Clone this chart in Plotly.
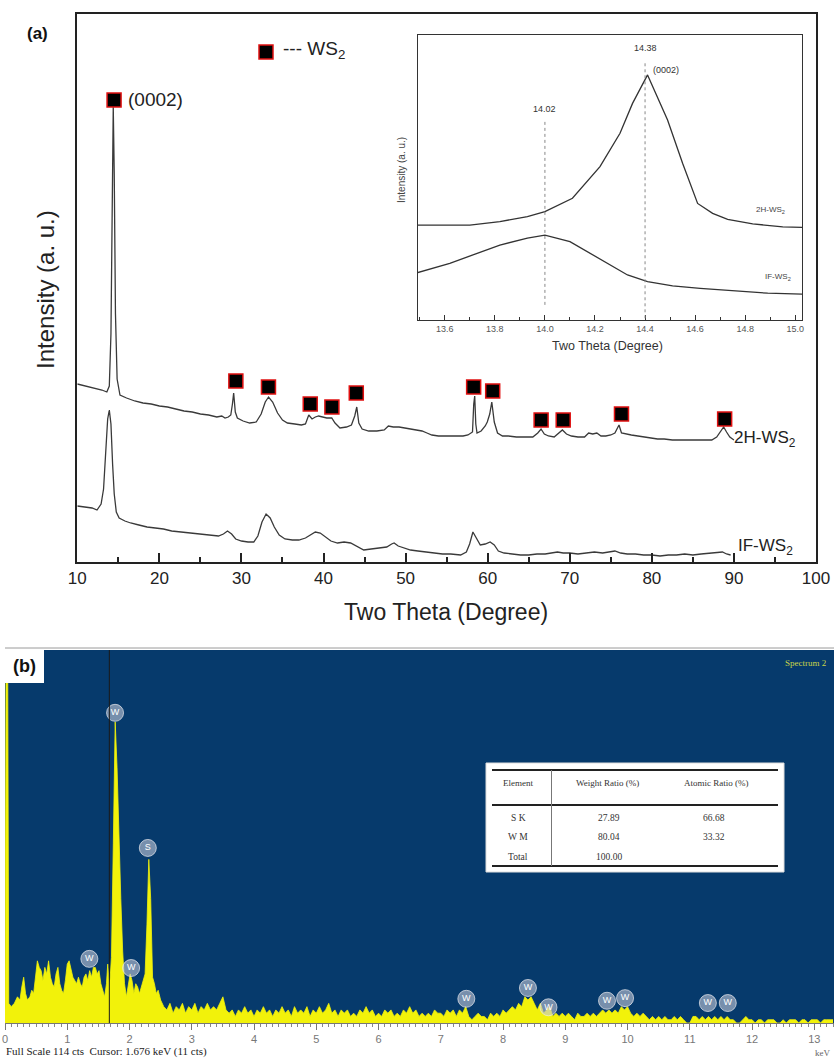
import plotly.graph_objects as go

# ---------------- (a) XRD data (2θ in degrees, intensity in a.u.) ----------------
XRD_2H = [(10, 180), (11, 178), (12, 176), (13, 174), (13.6, 172), (13.9, 178), (14.1, 230),
          (14.25, 370), (14.38, 457), (14.5, 390), (14.65, 250), (14.85, 185), (15.2, 169),
          (16, 166), (17, 163), (18, 161), (19, 160), (20, 158), (21, 157), (22, 155), (23, 153),
          (24, 152), (25, 150), (26, 149), (27, 147), (27.6, 148), (28.0, 146), (28.4, 147),
          (28.7, 149), (28.9, 160), (29.05, 171), (29.25, 152), (29.5, 146), (30.2, 143),
          (31.0, 141), (31.8, 142), (32.4, 150), (32.9, 162), (33.3, 167), (33.8, 162),
          (34.4, 151), (35.0, 144), (35.6, 141), (36.5, 140), (37.3, 139), (37.8, 140),
          (38.2, 149), (38.6, 145), (39.0, 147), (39.4, 148), (39.9, 147), (40.4, 146),
          (41.0, 146), (41.4, 141), (42.0, 136), (42.8, 137), (43.4, 139), (43.8, 148),
          (44.05, 157), (44.3, 141), (44.7, 135), (45.5, 133), (46.5, 133), (47.4, 134),
          (47.9, 138), (48.5, 137), (49.2, 137), (50.0, 136), (50.8, 135), (51.5, 134),
          (52.0, 133), (52.6, 131), (53.2, 129), (54, 128), (55, 128), (56, 128), (57, 128),
          (57.6, 129), (58.15, 132), (58.3, 160), (58.42, 168), (58.55, 140), (58.7, 131),
          (59.2, 133), (59.7, 138), (59.95, 142), (60.25, 150), (60.5, 162), (60.8, 142),
          (61.2, 131), (61.8, 128), (62.5, 128), (63.5, 127), (64.5, 127), (65.5, 127),
          (66.1, 131), (66.5, 135), (66.9, 130), (67.4, 128), (68.1, 127), (68.7, 131),
          (69.1, 134), (69.6, 130), (70.2, 128), (71, 127), (71.8, 127), (72.3, 131),
          (72.8, 130), (73.3, 131), (73.8, 128), (74.4, 128), (75.0, 129), (75.5, 131),
          (75.75, 135), (76.0, 139), (76.3, 131), (76.8, 130), (77.5, 129), (78.3, 128),
          (79.0, 127), (79.8, 126), (80.7, 125), (81.5, 125), (82.5, 124), (83.5, 124),
          (84.5, 124), (85.5, 124), (86.5, 124), (87.3, 124), (87.9, 127), (88.4, 133),
          (88.75, 137), (89.1, 132), (89.5, 127), (90.0, 124)]

XRD_IF = [(10, 58), (11, 57), (11.8, 56), (12.4, 54), (12.9, 60), (13.2, 75), (13.45, 105),
          (13.7, 145), (13.9, 154), (14.1, 140), (14.3, 100), (14.5, 70), (14.75, 52),
          (15.1, 46), (15.8, 43), (16.5, 41), (17.5, 39), (18.5, 37), (19.5, 36), (20.5, 35),
          (21.5, 33), (22.5, 32), (23.5, 31), (24.5, 30), (25.5, 29), (26.5, 28), (27.2, 28),
          (27.8, 30), (28.3, 33), (28.8, 30), (29.3, 25), (30.0, 23), (30.8, 22), (31.5, 22),
          (32.0, 28), (32.5, 42), (33.0, 50), (33.5, 46), (34.0, 37), (34.6, 29), (35.3, 25),
          (36.2, 24), (37.0, 24), (37.8, 26), (38.4, 29), (39.0, 32), (39.6, 31), (40.2, 27),
          (40.9, 23), (41.7, 21), (42.5, 22), (43.3, 21), (44.0, 18), (44.9, 14), (45.8, 15),
          (46.8, 16), (47.7, 17), (48.3, 20), (48.6, 21), (49.1, 18), (49.8, 16), (50.6, 14),
          (51.5, 13), (52.5, 12), (53.5, 11), (54.5, 10), (55.5, 10), (56.7, 9), (57.4, 12),
          (57.8, 20), (58.2, 32), (58.6, 26), (59.1, 19), (59.7, 20), (60.3, 22), (60.8, 19),
          (61.3, 13), (62, 11), (63, 10), (64, 9), (65, 9), (66, 10), (67, 10), (68, 11),
          (68.5, 12), (69.2, 11), (70, 11), (71, 10), (72, 11), (73, 12), (74, 11), (75, 12),
          (75.5, 13), (76.2, 11), (77, 10), (78, 10), (79, 9), (80, 9), (81, 8), (82, 9),
          (83, 9), (84, 10), (85, 9), (86, 10), (87, 11), (88, 12), (88.6, 12), (89.1, 10),
          (89.6, 9)]

PEAK_THETA = [14.48, 29.32, 33.29, 38.38, 41.02, 43.99, 58.29, 60.61, 66.51, 69.2, 76.3, 88.87]
PEAK_INT = [464, 183, 177, 160, 157, 171, 177, 173, 144, 144, 150, 145]

# ---------------- (a) inset data ----------------
INSET_2H = [(13.49, 33.3), (13.70, 33.3), (13.82, 34.5), (13.93, 36.3), (14.0, 38.0),
            (14.11, 42.7), (14.22, 53.8), (14.30, 65.5), (14.35, 76.0), (14.41, 86.0),
            (14.49, 70.2), (14.55, 55.0), (14.61, 40.9), (14.67, 37.4), (14.73, 35.3),
            (14.83, 33.7), (14.95, 32.7), (15.03, 32.5)]
INSET_IF = [(13.49, 16.6), (13.62, 19.9), (13.71, 22.8), (13.82, 26.3), (13.93, 28.7),
            (14.0, 29.8), (14.1, 27.5), (14.22, 21.3), (14.33, 15.8), (14.41, 13.5),
            (14.51, 12.0), (14.62, 11.1), (14.75, 10.3), (14.89, 9.4), (15.03, 9.1)]
INSET_PEAK_POS = [14.0, 14.4]
INSET_PEAK_LABEL = ["14.02", "14.38"]

# ---------------- (b) EDS data (keV, counts) ----------------
EDS_LOW = [(0.0, 0), (0.02, 130), (0.04, 130), (0.06, 6), (0.10, 5), (0.15, 6), (0.20, 8),
           (0.24, 7), (0.27, 11), (0.30, 14), (0.33, 9), (0.36, 7), (0.40, 8), (0.43, 10),
           (0.46, 9), (0.49, 14), (0.52, 19), (0.55, 17), (0.58, 16), (0.61, 13), (0.64, 17),
           (0.67, 15), (0.70, 19), (0.73, 14), (0.76, 12), (0.79, 11), (0.82, 15), (0.85, 17),
           (0.88, 12), (0.91, 10), (0.94, 9), (0.97, 13), (1.00, 18), (1.03, 19), (1.06, 16),
           (1.09, 14), (1.12, 13), (1.15, 12), (1.18, 14), (1.21, 12), (1.24, 11), (1.27, 14),
           (1.30, 15), (1.33, 13), (1.36, 16), (1.39, 14), (1.42, 17), (1.45, 17), (1.48, 15),
           (1.51, 16), (1.54, 12), (1.57, 10), (1.60, 8), (1.63, 12), (1.65, 18), (1.68, 11),
           (1.71, 20), (1.74, 55), (1.77, 92), (1.80, 78), (1.83, 55), (1.86, 38), (1.89, 22),
           (1.92, 12), (1.95, 8), (1.98, 11), (2.01, 15), (2.04, 13), (2.07, 9), (2.10, 12),
           (2.13, 11), (2.16, 9), (2.19, 11), (2.22, 13), (2.25, 15), (2.28, 30), (2.31, 50),
           (2.34, 38), (2.37, 14), (2.40, 12), (2.43, 9), (2.46, 10)]
# counts from 2.50 keV upward in 0.05 keV channels
EDS_HIGH_START = 2.50
EDS_HIGH_STEP = 0.05
EDS_HIGH_CTS = [7, 5, 4, 6, 3, 5, 4, 6, 3, 5, 4, 6, 3, 5, 4, 6, 4, 5, 4, 6, 8, 4, 3, 4, 2,
                4, 3, 5, 3, 4, 2, 4, 3, 5, 3, 4, 2, 4, 3, 5, 3, 4, 2, 5, 3, 4, 3, 5, 2, 4,
                3, 5, 3, 4, 6, 3, 4, 2, 4, 3, 4, 2, 3, 2, 4, 3, 5, 3, 4, 2, 3, 2, 4, 3, 4,
                2, 3, 2, 4, 3, 5, 3, 4, 2, 3, 2, 3, 2, 4, 3, 3, 2, 4, 3, 4, 2, 4, 3, 5, 2,
                1, 2, 3, 2, 2, 1, 3, 2, 3, 2, 4, 3, 4, 5, 4, 6, 5, 8, 7, 8, 6, 4, 6, 3, 4,
                5, 2, 3, 2, 3, 2, 3, 2, 1, 3, 2, 2, 3, 2, 3, 2, 3, 4, 3, 4, 3, 4, 3, 5, 4,
                5, 3, 2, 3, 2, 3, 2, 1, 2, 1, 2, 1, 2, 1, 1, 2, 1, 2, 1, 0, 0, 2, 2, 1, 2,
                1, 2, 1, 2, 1, 2, 1, 2, 1, 1, 0, 0, 1, 2, 1, 1, 0, 1, 1, 0, 1, 1, 1, 0, 0,
                1, 0, 1, 1, 1, 0, 1, 1, 0, 1, 1, 1, 0, 1, 1, 1, 1]

EDS_LABEL_TEXT = ["W", "S", "W", "W", "W", "W", "W", "W", "W", "W", "W"]
EDS_LABEL_KEV = [1.768, 2.294, 1.355, 2.026, 7.41, 8.40, 8.73, 9.67, 9.96, 11.29, 11.61]
EDS_LABEL_CTS = [94.8, 53.5, 19.6, 16.8, 7.4, 10.7, 4.8, 6.8, 7.6, 6.1, 6.1]
CURSOR_KEV = 1.676
FULL_SCALE = 114

TABLE_HEADERS = ["Element", "Weight Ratio (%)", "Atomic Ratio (%)"]
TABLE_ELEMENT = ["S K", "W M", "Total"]
TABLE_WEIGHT = ["27.89", "80.04", "100.00"]
TABLE_ATOMIC = ["66.68", "33.32", ""]

# ---------------- figure ----------------
W, H = 834, 1060
def px(x): return x / W
def py(y): return 1 - y / H

SANS = "Liberation Sans, Arial, sans-serif"
SERIF = "Liberation Serif, Times New Roman, serif"
LINE = "#3a3a3a"

fig = go.Figure()

t2h, i2h = zip(*XRD_2H)
tif, iif = zip(*XRD_IF)
fig.add_trace(go.Scatter(x=t2h, y=i2h, mode="lines", line=dict(color=LINE, width=1.3),
                         xaxis="x", yaxis="y", showlegend=False))
fig.add_trace(go.Scatter(x=tif, y=iif, mode="lines", line=dict(color=LINE, width=1.3),
                         xaxis="x", yaxis="y", showlegend=False))
fig.add_trace(go.Scatter(x=PEAK_THETA, y=PEAK_INT, mode="markers", xaxis="x", yaxis="y",
                         marker=dict(symbol="square", size=14, color="black",
                                     line=dict(color="#e01010", width=1.5)),
                         showlegend=False, cliponaxis=False))
# legend marker for WS2
fig.add_trace(go.Scatter(x=[32.99], y=[512], mode="markers", xaxis="x", yaxis="y",
                         marker=dict(symbol="square", size=14, color="black",
                                     line=dict(color="#e01010", width=1.5)),
                         showlegend=False))

# inset
x2h, y2h = zip(*INSET_2H)
xif, yif = zip(*INSET_IF)
fig.add_trace(go.Scatter(x=x2h, y=y2h, mode="lines", line=dict(color="#333", width=1.3),
                         xaxis="x2", yaxis="y2", showlegend=False))
fig.add_trace(go.Scatter(x=xif, y=yif, mode="lines", line=dict(color="#333", width=1.3),
                         xaxis="x2", yaxis="y2", showlegend=False))

# EDS
ek, ec = zip(*EDS_LOW)
ek = list(ek) + [round(EDS_HIGH_START + i * EDS_HIGH_STEP, 3) for i in range(len(EDS_HIGH_CTS))]
ec = list(ec) + EDS_HIGH_CTS
fig.add_trace(go.Scatter(x=ek, y=ec, mode="lines", fill="tozeroy", fillcolor="#f2f20a",
                         line=dict(color="#f2f20a", width=0.8), xaxis="x3", yaxis="y3",
                         showlegend=False))
fig.add_trace(go.Scatter(x=EDS_LABEL_KEV, y=EDS_LABEL_CTS, mode="markers+text",
                         text=EDS_LABEL_TEXT, textposition="middle center",
                         textfont=dict(color="white", size=9, family=SANS),
                         marker=dict(size=17, color="rgba(195,200,215,0.6)",
                                     line=dict(color="rgba(235,235,240,0.7)", width=1)),
                         xaxis="x3", yaxis="y3", showlegend=False, cliponaxis=False))

shapes = []
annotations = []

# blue background of (b)
shapes.append(dict(type="rect", xref="paper", yref="paper", x0=px(5), x1=1.0,
                   y0=py(1023), y1=py(650), fillcolor="#063a6c", line=dict(width=0),
                   layer="below"))
shapes.append(dict(type="line", xref="paper", yref="paper", x0=px(5), x1=1.0,
                   y0=py(648), y1=py(648), line=dict(color="#9a9a9a", width=1)))
# cursor line
shapes.append(dict(type="line", xref="x3", yref="paper", x0=CURSOR_KEV, x1=CURSOR_KEV,
                   y0=py(1023), y1=py(650), line=dict(color="#1a1a1a", width=1)))
# (b) label box
shapes.append(dict(type="rect", xref="paper", yref="paper", x0=px(5), x1=px(44),
                   y0=py(683), y1=py(650), fillcolor="white", line=dict(width=0)))
# table
shapes.append(dict(type="rect", xref="paper", yref="paper", x0=px(486), x1=px(784),
                   y0=py(872), y1=py(763), fillcolor="white",
                   line=dict(color="#dddddd", width=1)))
for yy in (770, 805, 866):
    shapes.append(dict(type="line", xref="paper", yref="paper", x0=px(492), x1=px(778),
                       y0=py(yy), y1=py(yy), line=dict(color="#222", width=2.2)))
shapes.append(dict(type="line", xref="paper", yref="paper", x0=px(551.5), x1=px(551.5),
                   y0=py(866), y1=py(770), line=dict(color="#777", width=1)))

# inset dotted guide lines
for xv, ytop, ybot in zip(INSET_PEAK_POS, [70.2, 90.6], [5.3, 0.6]):
    shapes.append(dict(type="line", xref="x2", yref="y2", x0=xv, x1=xv, y0=ybot, y1=ytop,
                       line=dict(color="#888", width=1, dash="dot")))

def ann(text, x, y, size, color="#222", xanchor="center", family=SANS, **kw):
    d = dict(text=text, x=x, y=y, xref="paper", yref="paper", showarrow=False,
             xanchor=xanchor, yanchor="middle", font=dict(size=size, color=color, family=family))
    d.update(kw)
    annotations.append(d)

# (a) texts
ann("<b>(a)</b>", px(37), py(33), 17, color="#111")
ann("--- WS<sub>2</sub>", px(281), py(50), 19, xanchor="left")
ann("(0002)", px(126), py(100), 19, xanchor="left")
ann("2H-WS<sub>2</sub>", px(732), py(439), 17, xanchor="left")
ann("IF-WS<sub>2</sub>", px(736), py(547), 17, xanchor="left")
ann("Two Theta (Degree)", px(446), py(612), 23)
ann("Intensity (a. u.)", px(45), py(290), 24, textangle=-90)

# inset texts
ann("Two Theta (Degree)", px(607), py(346), 12.5, color="#333")
ann("Intensity (a. u.)", px(402), py(170), 10, color="#444", textangle=-90)
for xv, lab, yv in zip(INSET_PEAK_POS, INSET_PEAK_LABEL, [74, 95.5]):
    annotations.append(dict(text=lab, x=xv, y=yv, xref="x2", yref="y2", showarrow=False,
                            font=dict(size=9, color="#333", family=SANS)))
annotations.append(dict(text="(0002)", x=14.425, y=87.7, xref="x2", yref="y2", showarrow=False,
                        xanchor="left", font=dict(size=9, color="#333", family=SANS)))
annotations.append(dict(text="2H-WS<sub>2</sub>", x=14.9, y=38.6, xref="x2", yref="y2",
                        showarrow=False, font=dict(size=8, color="#444", family=SANS)))
annotations.append(dict(text="IF-WS<sub>2</sub>", x=14.93, y=15.2, xref="x2", yref="y2",
                        showarrow=False, font=dict(size=8, color="#444", family=SANS)))

# (b) texts
ann("<b>(b)</b>", px(24), py(666), 18, color="#111")
ann("Spectrum 2", px(828), py(663), 9, color="#c9d54a", xanchor="right", family=SERIF)
ann(f"Full Scale {FULL_SCALE} cts  Cursor: {CURSOR_KEV:.3f} keV (11 cts)", px(4), py(1051), 11,
    color="#222", xanchor="left", family=SERIF)
ann("keV", px(822), py(1053), 9, color="#666", family=SERIF)

col_x = [518, 607, 716]
for cx, h in zip(col_x, TABLE_HEADERS):
    ann(h, px(cx), py(783), 9, color="#333", family=SERIF)
for i, row_y in enumerate([818, 837, 857]):
    ann(TABLE_ELEMENT[i], px(col_x[0]), py(row_y), 9.5, color="#333", family=SERIF)
    ann(TABLE_WEIGHT[i], px(col_x[1] + 2), py(row_y), 9.5, color="#333", family=SERIF)
    if TABLE_ATOMIC[i]:
        ann(TABLE_ATOMIC[i], px(col_x[2] - 2), py(row_y), 9.5, color="#333", family=SERIF)

frame = dict(showline=True, linecolor="#222", linewidth=1.6, mirror=True,
             showgrid=False, zeroline=False, automargin=False)

fig.update_layout(
    template="none",
    width=W, height=H, autosize=False, margin=dict(l=0, r=0, t=0, b=0, pad=0),
    paper_bgcolor="white", plot_bgcolor="white", showlegend=False,
    xaxis=dict(domain=[px(77.3), px(816)], range=[10, 100], anchor="y",
               tickmode="linear", tick0=10, dtick=10, ticks="inside", ticklen=9,
               tickwidth=1.5, tickcolor="#222",
               minor=dict(dtick=5, ticks="inside", ticklen=5, tickwidth=1.5, tickcolor="#222"),
               tickfont=dict(size=17, color="#222", family=SANS), **frame),
    yaxis=dict(domain=[py(562), py(14)], range=[2, 550], anchor="x",
               showticklabels=False, ticks="", **frame),
    xaxis2=dict(domain=[px(418), px(802)], range=[13.493, 15.027], anchor="y2",
                tickmode="linear", tick0=13.6, dtick=0.2, tickformat=".1f",
                ticks="inside", ticklen=5, tickwidth=1, tickcolor="#333",
                minor=dict(dtick=0.1, ticks="inside", ticklen=3, tickcolor="#333"),
                tickfont=dict(size=9, color="#555", family=SANS),
                showline=True, linecolor="#333", linewidth=1.3, mirror=True,
                showgrid=False, zeroline=False, automargin=False),
    yaxis2=dict(domain=[py(320), py(35)], range=[0, 100], anchor="x2",
                showticklabels=False, ticks="",
                showline=True, linecolor="#333", linewidth=1.3, mirror=True,
                showgrid=False, zeroline=False, automargin=False),
    xaxis3=dict(domain=[px(5), 1.0], range=[0, 13.316], anchor="y3",
                tickmode="linear", tick0=0, dtick=1, ticks="outside", ticklen=6,
                tickcolor="#777", tickwidth=1,
                minor=dict(dtick=0.1, ticks="outside", ticklen=3, tickcolor="#888"),
                tickfont=dict(size=11, color="#777", family=SANS),
                showline=True, linecolor="#777", linewidth=1.2,
                showgrid=False, zeroline=False, automargin=False),
    yaxis3=dict(domain=[py(1023), py(650)], range=[0, FULL_SCALE], anchor="x3",
                showticklabels=False, ticks="", showline=False,
                showgrid=False, zeroline=False, automargin=False),
    shapes=shapes, annotations=annotations,
)

POST = ("document.documentElement.style.margin='0';document.documentElement.style.padding='0';"
        "document.documentElement.style.overflow='hidden';"
        "document.body.style.margin='0';document.body.style.padding='0';"
        "document.body.style.overflow='hidden';"
        "var gd=document.getElementById('{plot_id}');"
        "Plotly.relayout(gd,{width:834,height:1060});")

fig.write_html("out.html", config={"responsive": False, "displayModeBar": False},
               post_script=POST)
